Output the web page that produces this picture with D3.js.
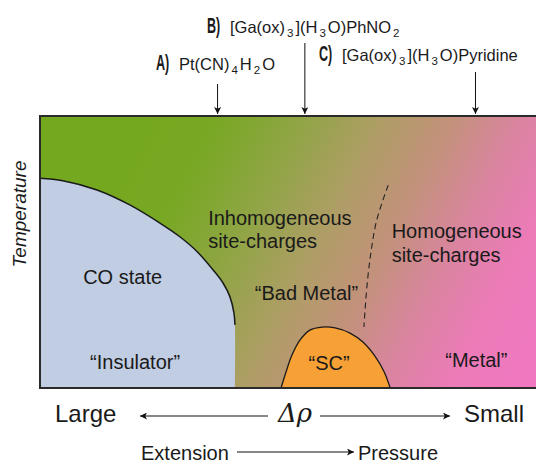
<!DOCTYPE html>
<html>
<head>
<meta charset="utf-8">
<script src="https://cdn.jsdelivr.net/npm/d3@7"></script>
<style>
  body { margin: 0; background: #fff; }
  text { font-family: "Liberation Sans", Arial, sans-serif; fill: #1a1a1a; }
</style>
</head>
<body>
<svg id="chart" width="536" height="463"></svg>
<script>
// phase boundaries, axes in arbitrary units 0..100
const coBoundary = [[0, 77.1], [4.6, 76.2], [11.5, 72.8], [18.1, 67.3], [24.8, 59.9], [28.2, 55.6],
  [31.7, 50.1], [34.9, 43.4], [36.9, 38.6], [38.3, 33.5], [39.1, 27.6], [39.3, 23.2]];
const coFloor = [39.3, 0];
const scDome = [[48.6, 0], [49.6, 5.9], [50.8, 12.1], [52.4, 17.6], [54.4, 21.3], [56.9, 22.4],
  [59.5, 22.1], [62.5, 20.2], [65.1, 16.9], [67.5, 11.8], [69.4, 5.9], [70.6, 0]];
const crossover = [[70.2, 74.6], [67.9, 61.8], [66.7, 49.6], [65.9, 37.1], [65.3, 22.4]];

// region labels [text, x, y, anchor]
const regionLabels = [
  ["CO state", 8.7, 38.2, "start"],
  ["\u201cInsulator\u201d", 10.1, 7.0, "start"],
  ["Inhomogeneous", 33.9, 59.9, "start"],
  ["site-charges", 33.9, 51.6, "start"],
  ["\u201cBad Metal\u201d", 43.3, 32.4, "start"],
  ["Homogeneous", 70.9, 55.0, "start"],
  ["site-charges", 70.9, 46.4, "start"],
  ["\u201cSC\u201d", 58.3, 6.6, "middle"],
  ["\u201cMetal\u201d", 81.7, 7.8, "start"]
];

// compounds placed on the Δρ axis; parts are [text, isSubscript]
const compounds = [
  { tag: "A)", at: 35.8, parts: [["Pt(CN)", 0], ["4", 1], ["H", 0], ["2", 1], ["O", 0]] },
  { tag: "B)", at: 53.4, parts: [["[Ga(ox)", 0], ["3", 1], ["](H", 0], ["3", 1], ["O)PhNO", 0], ["2", 1]] },
  { tag: "C)", at: 87.8, parts: [["[Ga(ox)", 0], ["3", 1], ["](H", 0], ["3", 1], ["O)Pyridine", 0]] }
];
const compoundLayout = { "A)": { tx: 156, ty: 70, y0: 84 }, "B)": { tx: 207, ty: 33, y0: 43 }, "C)": { tx: 319, ty: 61, y0: 72 } };

const gradStops = [[0, "#74a81e"], [0.15, "#78a824"], [0.3, "#90a545"], [0.44, "#ad9e64"],
  [0.57, "#c2927a"], [0.7, "#da84a0"], [0.82, "#ec7bb8"], [1, "#f277c2"]];

const svg = d3.select("#chart");
const x = d3.scaleLinear().domain([0, 100]).range([40, 536]);
const y = d3.scaleLinear().domain([0, 100]).range([388, 116]);

const defs = svg.append("defs");
const grad = defs.append("linearGradient")
  .attr("id", "bg")
  .attr("gradientUnits", "userSpaceOnUse")
  .attr("x1", 120).attr("y1", 150)
  .attr("x2", 555).attr("y2", 374);
grad.selectAll("stop").data(gradStops).enter().append("stop")
  .attr("offset", d => d[0])
  .attr("stop-color", d => d[1]);

defs.append("marker")
  .attr("id", "head")
  .attr("viewBox", "0 0 10 10")
  .attr("refX", 10).attr("refY", 5)
  .attr("markerWidth", 7).attr("markerHeight", 7)
  .attr("markerUnits", "userSpaceOnUse")
  .attr("orient", "auto")
  .append("path")
  .attr("d", "M0,0L10,5L0,10L2.5,5Z")
  .attr("fill", "#111");

// background
svg.append("rect")
  .attr("x", x(0)).attr("y", y(100))
  .attr("width", x(100) - x(0)).attr("height", y(0) - y(100))
  .attr("fill", "url(#bg)");

// CO state
const coArea = d3.area()
  .x(d => x(d[0])).y0(y(0)).y1(d => y(d[1]))
  .curve(d3.curveCatmullRom);
svg.append("path")
  .attr("d", coArea(coBoundary.concat([coFloor])))
  .attr("fill", "#c1cde2");
svg.append("path")
  .attr("d", d3.line().x(d => x(d[0])).y(d => y(d[1])).curve(d3.curveCatmullRom)(coBoundary))
  .attr("fill", "none").attr("stroke", "#1a1a1a").attr("stroke-width", 1.5);

// SC dome
svg.append("path")
  .attr("d", d3.line().x(d => x(d[0])).y(d => y(d[1])).curve(d3.curveCatmullRom)(scDome))
  .attr("fill", "#f7a035").attr("stroke", "#1a1a1a").attr("stroke-width", 1.3);

// crossover
svg.append("path")
  .attr("d", d3.line().x(d => x(d[0])).y(d => y(d[1])).curve(d3.curveCatmullRom)(crossover))
  .attr("fill", "none").attr("stroke", "#222").attr("stroke-width", 1.1)
  .attr("stroke-dasharray", "6,4");

// frame (left, top, bottom)
svg.append("path")
  .attr("d", `M${x(100) + 2},${y(100)}H${x(0)}V${y(0)}H${x(100) + 2}`)
  .attr("fill", "none").attr("stroke", "#2a2a2a").attr("stroke-width", 2);

svg.append("g").selectAll("text")
  .data(regionLabels).enter().append("text")
  .attr("x", d => x(d[1])).attr("y", d => y(d[2]))
  .attr("text-anchor", d => d[3])
  .attr("font-size", 20)
  .text(d => d[0]);

// y axis title
svg.append("text")
  .attr("transform", "translate(26,214) rotate(-90)")
  .attr("text-anchor", "middle")
  .attr("font-size", 19).attr("font-style", "italic")
  .text("Temperature");

// compounds on top
const comp = svg.append("g").selectAll("g").data(compounds).enter().append("g");
comp.append("line")
  .attr("x1", d => x(d.at)).attr("x2", d => x(d.at))
  .attr("y1", d => compoundLayout[d.tag].y0).attr("y2", 114)
  .attr("stroke", "#111").attr("stroke-width", 1)
  .attr("marker-end", "url(#head)");
// narrow tall tag letters
comp.append("text")
  .attr("transform", d => `translate(${compoundLayout[d.tag].tx},${compoundLayout[d.tag].ty}) scale(0.68,1.15)`)
  .attr("font-size", 18.5)
  .attr("font-weight", "bold")
  .text(d => d.tag);
const lbl = comp.append("text")
  .attr("x", d => compoundLayout[d.tag].tx + 23)
  .attr("y", d => compoundLayout[d.tag].ty)
  .attr("font-size", 16.5);
lbl.each(function (d) {
  const t = d3.select(this);
  d.parts.forEach((p, i) => {
    const prev = i > 0 ? d.parts[i - 1][1] : 0;
    t.append("tspan")
      .attr("dx", p[1] ? 2 : (prev ? 2 : 0))
      .attr("dy", p[1] ? 4 : (prev ? -4 : 0))
      .attr("font-size", p[1] ? 11.5 : 16.5)
      .text(p[0]);
  });
});

// Δρ axis
const bottom = svg.append("g");
bottom.append("text").attr("x", 55).attr("y", 422).attr("font-size", 24).text("Large");
bottom.append("text").attr("x", 524).attr("y", 422).attr("font-size", 24)
  .attr("text-anchor", "end").text("Small");
bottom.append("text").attr("x", 295).attr("y", 422).attr("font-size", 26)
  .attr("text-anchor", "middle")
  .style("font-family", "'DejaVu Serif', 'Liberation Serif', serif")
  .attr("font-style", "italic").text("\u0394\u03c1");
bottom.append("line").attr("x1", 268).attr("x2", 140).attr("y1", 416).attr("y2", 416)
  .attr("stroke", "#111").attr("marker-end", "url(#head)");
bottom.append("line").attr("x1", 320).attr("x2", 450).attr("y1", 416).attr("y2", 416)
  .attr("stroke", "#111").attr("marker-end", "url(#head)");

bottom.append("text").attr("x", 141).attr("y", 460).attr("font-size", 20).text("Extension");
bottom.append("text").attr("x", 358).attr("y", 460).attr("font-size", 20).text("Pressure");
bottom.append("line").attr("x1", 237).attr("x2", 354).attr("y1", 452).attr("y2", 452)
  .attr("stroke", "#111").attr("marker-end", "url(#head)");
</script>
</body>
</html>
